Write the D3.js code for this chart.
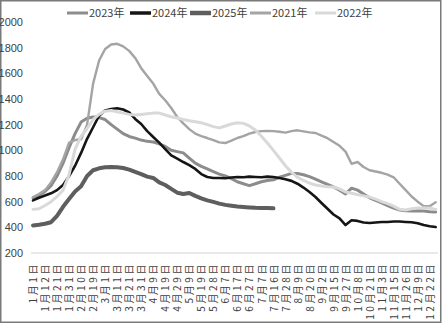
<!DOCTYPE html>
<html>
<head>
<meta charset="utf-8">
<script src="https://cdn.jsdelivr.net/npm/d3@7/dist/d3.min.js"></script>
<style>
  html, body { margin: 0; padding: 0; background: #fff; }
  svg { display: block; }
  .ylab text { font-family: "Liberation Sans Narrow", "Arial Narrow", "Liberation Sans", sans-serif; font-size: 11px; fill: #404040; }
  .xlab text { font-family: "Noto Sans CJK SC", "Liberation Sans", sans-serif; font-size: 10px; fill: #404040; letter-spacing: 2.6px; }
  .legend text { font-family: "Liberation Sans Narrow", "Arial Narrow", "Noto Sans CJK SC", sans-serif; font-size: 11px; fill: #404040; }
</style>
</head>
<body>
<svg id="chart" width="443" height="324"></svg>
<script>
// Category axis: one point roughly every five days, labels on every other point
const dates = [
  "1月1日","1月6日","1月12日","1月17日","1月21日","1月26日","1月31日","2月5日",
  "2月10日","2月14日","2月19日","2月24日","3月1日","3月6日","3月11日","3月16日",
  "3月21日","3月26日","3月31日","4月4日","4月9日","4月14日","4月19日","4月24日",
  "4月29日","5月4日","5月9日","5月14日","5月19日","5月23日","5月28日","6月2日",
  "6月7日","6月12日","6月17日","6月22日","6月27日","7月2日","7月7日","7月11日",
  "7月16日","7月22日","7月28日","8月3日","8月9日","8月14日","8月20日","8月27日",
  "9月2日","9月8日","9月15日","9月21日","9月27日","10月2日","10月8日","10月14日",
  "10月21日","10月27日","11月3日","11月9日","11月15日","11月20日","11月26日","12月2日",
  "12月9日","12月15日","12月22日","12月29日"
];
const tickDates = dates.filter((d, i) => i % 2 === 0);
const yTicks = [200, 400, 600, 800, 1000, 1200, 1400, 1600, 1800, 2000];

const s2023 = [630,650,680,725,800,900,1020,1130,1220,1250,1260,1255,1240,1200,1165,1130,
  1108,1095,1080,1070,1065,1050,1030,1000,990,980,940,900,875,855,835,815,
  800,780,755,740,725,740,755,765,770,790,805,820,820,810,795,775,
  755,735,715,690,660,705,690,660,630,610,590,570,550,535,530,528,
  530,528,522,520];
const s2024 = [610,630,648,665,690,730,800,880,980,1090,1180,1270,1310,1322,1328,1318,
  1295,1245,1205,1150,1104,1060,1010,960,935,909,885,855,815,792,784,784,
  782,788,792,790,795,792,790,795,792,785,775,762,740,710,675,636,
  590,545,500,470,418,455,450,438,434,438,442,442,445,445,442,440,
  432,418,408,402];
const s2025 = [415,420,428,440,490,560,620,680,720,800,845,860,868,870,868,862,
  850,832,815,795,785,750,730,700,670,660,668,645,625,610,598,585,
  575,568,562,558,555,552,551,550,548];
const s2021 = [636,660,690,750,830,930,1060,1080,1085,1200,1520,1700,1790,1825,1830,1810,
  1775,1720,1640,1580,1520,1440,1390,1330,1260,1210,1165,1130,1110,1096,1080,1062,
  1057,1075,1096,1110,1130,1143,1150,1152,1150,1145,1138,1150,1156,1148,1140,1135,
  1115,1095,1065,1035,990,895,909,870,845,835,825,810,790,740,690,640,
  600,565,565,595];
const s2022 = [540,545,570,600,640,690,810,1010,1110,1170,1240,1280,1305,1310,1300,1290,
  1280,1275,1280,1285,1290,1290,1275,1262,1252,1240,1230,1222,1215,1200,1185,1175,
  1190,1205,1215,1210,1190,1158,1110,1057,1000,940,880,830,790,765,745,730,
  722,716,714,700,675,665,655,645,636,620,600,585,565,540,535,545,
  550,550,550,540];

const seriesNames = ["2023年","2024年","2025年","2021年","2022年"];
const seriesValues = [s2023, s2024, s2025, s2021, s2022];
const seriesColors = ["#8c8c8c","#151515","#5e5e5e","#a4a4a4","#d9d9d9"];
const seriesWidths = [3, 2.6, 4, 2.4, 3];
const legendWidths = [3, 3.5, 4.5, 3, 3];

const svg = d3.select("#chart");

// outer frame
svg.append("rect")
  .attr("x", 0.75).attr("y", 0.75).attr("width", 440).attr("height", 321.5)
  .attr("fill", "#fff").attr("stroke", "#7a7a7a").attr("stroke-width", 1.5);

const x = d3.scalePoint().domain(dates).range([33, 435.7]);
const y = d3.scaleLinear().domain([200, 2000]).range([253, 22]);

// y labels
const yAxis = svg.append("g").attr("class", "ylab")
  .attr("transform", "translate(23,0)")
  .call(d3.axisLeft(y).tickValues(yTicks).tickSize(0).tickPadding(0).tickFormat(d3.format("d")));
yAxis.select(".domain").remove();

// category baseline
svg.append("line")
  .attr("x1", 31).attr("x2", 438).attr("y1", y(200)).attr("y2", y(200))
  .attr("stroke", "#d4d4d4").attr("stroke-width", 1.2);

// x labels, rotated
const xAxis = svg.append("g").attr("class", "xlab")
  .attr("transform", `translate(0,${y(200)})`)
  .call(d3.axisBottom(x).tickValues(tickDates).tickSize(0));
xAxis.select(".domain").remove();
xAxis.selectAll("text")
  .attr("transform", "rotate(-90)")
  .attr("x", -9).attr("y", 0).attr("dy", "0.36em")
  .style("text-anchor", "end");

// series lines
const line = d3.line()
  .x((d, i) => x(dates[i]))
  .y(d => y(d));

seriesValues.forEach((vals, k) => {
  svg.append("path")
    .datum(vals)
    .attr("d", line)
    .attr("fill", "none")
    .attr("stroke", seriesColors[k])
    .attr("stroke-width", seriesWidths[k])
    .attr("stroke-linejoin", "round")
    .attr("stroke-linecap", "round");
});

// legend
const legendX = [67, 130, 190, 250, 315];
const legend = svg.append("g").attr("class", "legend");
seriesNames.forEach((name, k) => {
  legend.append("line")
    .attr("x1", legendX[k]).attr("x2", legendX[k] + 21)
    .attr("y1", 13).attr("y2", 13)
    .attr("stroke", seriesColors[k]).attr("stroke-width", legendWidths[k]);
  legend.append("text")
    .attr("x", legendX[k] + 22).attr("y", 13).attr("dy", "0.36em")
    .text(name);
});
</script>
</body>
</html>
